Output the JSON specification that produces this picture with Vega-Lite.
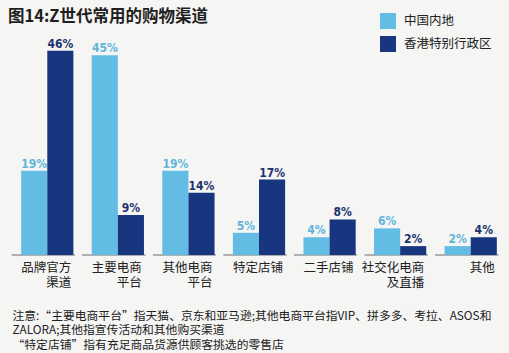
{
  "$schema": "https://vega.github.io/schema/vega-lite/v6.json",
  "width": 494,
  "height": 222,
  "autosize": {"type": "none"},
  "padding": {"left": 12, "top": 33, "right": 3, "bottom": 98},
  "background": "#f5f5f3",
  "title": {
    "text": "图14:Z世代常用的购物渠道",
    "anchor": "start",
    "frame": "group",
    "dx": -4,
    "offset": 0,
    "dy": 12,
    "font": "Noto Sans CJK SC",
    "fontSize": 16.5,
    "fontWeight": "bold",
    "color": "#1f1f1f"
  },
  "data": {
    "values": [
      {"channel": "品牌官方 渠道", "region": "中国内地", "pct": 0.19},
      {"channel": "品牌官方 渠道", "region": "香港特别行政区", "pct": 0.46},
      {"channel": "主要电商 平台", "region": "中国内地", "pct": 0.45},
      {"channel": "主要电商 平台", "region": "香港特别行政区", "pct": 0.09},
      {"channel": "其他电商 平台", "region": "中国内地", "pct": 0.19},
      {"channel": "其他电商 平台", "region": "香港特别行政区", "pct": 0.14},
      {"channel": "特定店铺", "region": "中国内地", "pct": 0.05},
      {"channel": "特定店铺", "region": "香港特别行政区", "pct": 0.17},
      {"channel": "二手店铺", "region": "中国内地", "pct": 0.04},
      {"channel": "二手店铺", "region": "香港特别行政区", "pct": 0.08},
      {"channel": "社交化电商 及直播", "region": "中国内地", "pct": 0.06},
      {"channel": "社交化电商 及直播", "region": "香港特别行政区", "pct": 0.02},
      {"channel": "其他", "region": "中国内地", "pct": 0.02},
      {"channel": "其他", "region": "香港特别行政区", "pct": 0.04}
    ]
  },
  "encoding": {
    "x": {
      "field": "channel",
      "type": "nominal",
      "sort": null,
      "scale": {"paddingInner": 0.26, "paddingOuter": 0.13},
      "axis": {
        "title": ["注意:“主要电商平台”指天猫、京东和亚马逊;其他电商平台指VIP、拼多多、考拉、ASOS和", "ZALORA;其他指宣传活动和其他购买渠道", "“特定店铺”指有充足商品货源供顾客挑选的零售店"],
        "titleFont": "Noto Sans CJK SC",
        "titleFontSize": 11.8,
        "titleFontWeight": "normal",
        "titleColor": "#222222",
        "titleAnchor": "start",
        "titleAlign": "left",
        "titleBaseline": "top",
        "titleX": 0,
        "titleY": 55,
        "titleLineHeight": 14.5,
        "labelExpr": "split(datum.value, ' ')",
        "labelAngle": 0,
        "labelAlign": "right",
        "labelOffset": 24,
        "labelBaseline": "top",
        "labelPadding": 6,
        "labelFont": "Noto Sans CJK SC",
        "labelFontSize": 12.5,
        "labelLineHeight": 15.5,
        "labelColor": "#222222",
        "labelOverlap": false,
        "domain": false,
        "ticks": false,
        "grid": false
      }
    },
    "y": {
      "field": "pct",
      "type": "quantitative",
      "scale": {"domain": [0, 0.5]},
      "axis": null
    }
  },
  "layer": [
    {
      "mark": {"type": "tick", "color": "#a9a9a9", "thickness": 2, "size": 63, "xOffset": -4},
      "encoding": {"y": {"datum": 0, "type": "quantitative"}}
    },
    {
      "mark": {"type": "bar"},
      "encoding": {
        "xOffset": {"field": "region", "type": "nominal", "sort": ["中国内地", "香港特别行政区"], "scale": {"paddingInner": 0, "paddingOuter": 0}},
        "color": {
          "field": "region",
          "type": "nominal",
          "scale": {"domain": ["中国内地", "香港特别行政区"], "range": ["#62bce4", "#18357f"]},
          "legend": {
            "title": null,
            "orient": "none",
            "legendX": 368,
            "legendY": -20,
            "symbolType": "square",
            "symbolSize": 256,
            "symbolStrokeWidth": 0,
            "symbolOpacity": 1,
            "labelFont": "Noto Sans CJK SC",
            "labelFontSize": 12.5,
            "labelColor": "#222222",
            "labelOffset": 8,
            "rowPadding": 7
          }
        }
      }
    },
    {
      "mark": {"type": "text", "baseline": "alphabetic", "dy": -3, "font": "DejaVu Sans Condensed, Liberation Sans Narrow, Roboto", "fontWeight": "bold", "fontSize": 12},
      "encoding": {
        "xOffset": {"field": "region", "type": "nominal", "sort": ["中国内地", "香港特别行政区"]},
        "text": {"field": "pct", "type": "quantitative", "format": ".0%"},
        "color": {"condition": {"test": "datum.region === '中国内地'", "value": "#5fb5dc"}, "value": "#1b3270"}
      }
    }
  ],
  "config": {"view": {"stroke": null}}
}
